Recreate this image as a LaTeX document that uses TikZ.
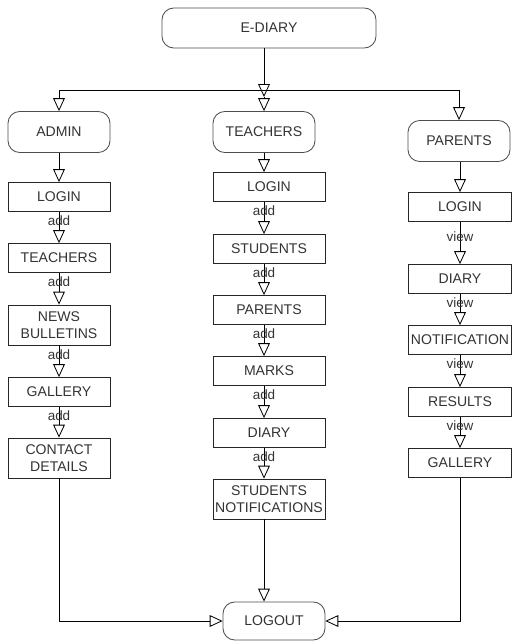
\documentclass[tikz,border=0pt]{standalone}
\usepackage{fontspec}
\setmainfont{Liberation Sans}
\usepackage{tikz}
\usetikzlibrary{arrows.meta,calc}
\tikzset{
  blk/.style   = {draw=black!85, align=center, text=black!80,
                  font=\fontsize{12}{14.5}\selectfont, inner sep=1pt,
                  minimum height=0.87cm},
  term/.style  = {blk, draw=black!70, rounded corners=10pt, minimum height=1.23cm,
                  minimum width=3.06cm},
  acol/.style  = {blk, minimum width=3.06cm},
  tcol/.style  = {blk, minimum width=3.36cm},
  pcol/.style  = {blk, minimum width=3.1cm},
  ar/.style    = {-{Triangle[open, length=11pt, width=10pt]}},
  ln/.style    = {},
  lbl/.style   = {font=\fontsize{11.5}{12}\selectfont, text=black!80, inner sep=1pt},
}

\begin{document}
\begin{tikzpicture}[x=0.03cm, y=-0.03cm, line width=0.7pt]
\useasboundingbox (0,0) rectangle (514,641);

% --- top ---
\node[term, minimum width=6.42cm, minimum height=1.2cm] (ediary) at (269,28) {E-DIARY};

% --- roles ---
\node[term] (admin)    at (59,132)  {ADMIN};
\node[term] (teachers) at (264,132) {TEACHERS};
\node[term] (parents)  at (459,141) {PARENTS};

% --- admin column ---
\node[acol] (alogin)   at (59,197) {LOGIN};
\node[acol] (ateach)   at (59,258) {TEACHERS};
\node[acol, minimum height=1.2cm] (anews) at (59,325) {NEWS\\BULLETINS};
\node[acol] (agallery) at (59,392) {GALLERY};
\node[acol, minimum height=1.2cm] (acontact) at (59,458) {CONTACT\\DETAILS};

% --- teachers column ---
\node[tcol] (tlogin)   at (269,187) {LOGIN};
\node[tcol] (tstud)    at (269,249) {STUDENTS};
\node[tcol] (tpar)     at (269,310) {PARENTS};
\node[tcol] (tmarks)   at (269,371) {MARKS};
\node[tcol] (tdiary)   at (269,433) {DIARY};
\node[tcol, minimum height=1.2cm] (tnotif) at (269,499) {STUDENTS\\NOTIFICATIONS};

% --- parents column ---
\node[pcol] (plogin)   at (460,207) {LOGIN};
\node[pcol] (pdiary)   at (460,279) {DIARY};
\node[pcol] (pnotif)   at (460,340) {NOTIFICATION};
\node[pcol] (presults) at (460,402) {RESULTS};
\node[pcol] (pgallery) at (460,463) {GALLERY};

% --- bottom ---
\node[term, minimum height=1.14cm] (logout) at (274,621) {LOGOUT};

% --- split to roles ---
\coordinate (bus)   at (264,90);
\coordinate (split) at (264,97);
\draw[ar] (ediary.south -| bus) -- (split);
\draw[ln] (bus -| admin) -- (bus -| parents);
\draw[ar] (split) -- (teachers);
\draw[ar] (bus -| admin) -- (admin);
\draw[ar] (bus -| parents) -- (parents);

% admin chain
\draw[ar] (admin) -- (alogin);
\draw[ar] (alogin) -- node[lbl, pos=.28] {add} (ateach);
\draw[ar] (ateach) -- node[lbl, pos=.28] {add} (anews);
\draw[ar] (anews) -- node[lbl, pos=.28] {add} (agallery);
\draw[ar] (agallery) -- node[lbl, pos=.28] {add} (acontact);

% teachers chain
\draw[ar] (teachers) -- (tlogin.north -| teachers);
\draw[ar] (tlogin.south -| teachers) -- node[lbl, pos=.28] {add} (tstud.north -| teachers);
\draw[ar] (tstud.south -| teachers) -- node[lbl, pos=.28] {add} (tpar.north -| teachers);
\draw[ar] (tpar.south -| teachers) -- node[lbl, pos=.28] {add} (tmarks.north -| teachers);
\draw[ar] (tmarks.south -| teachers) -- node[lbl, pos=.28] {add} (tdiary.north -| teachers);
\draw[ar] (tdiary.south -| teachers) -- node[lbl, pos=.28] {add} (tnotif.north -| teachers);

% parents chain
\draw[ar] (parents.south -| plogin) -- (plogin);
\draw[ar] (plogin) -- node[lbl, pos=.36] {view} (pdiary);
\draw[ar] (pdiary) -- node[lbl, pos=.28] {view} (pnotif);
\draw[ar] (pnotif) -- node[lbl, pos=.28] {view} (presults);
\draw[ar] (presults) -- node[lbl, pos=.28] {view} (pgallery);

% to logout
\draw[ar] (acontact) |- (logout);
\draw[ar] (tnotif.south -| teachers) -- (logout.north -| teachers);
\draw[ar] (pgallery) |- (logout);
\end{tikzpicture}
\end{document}
